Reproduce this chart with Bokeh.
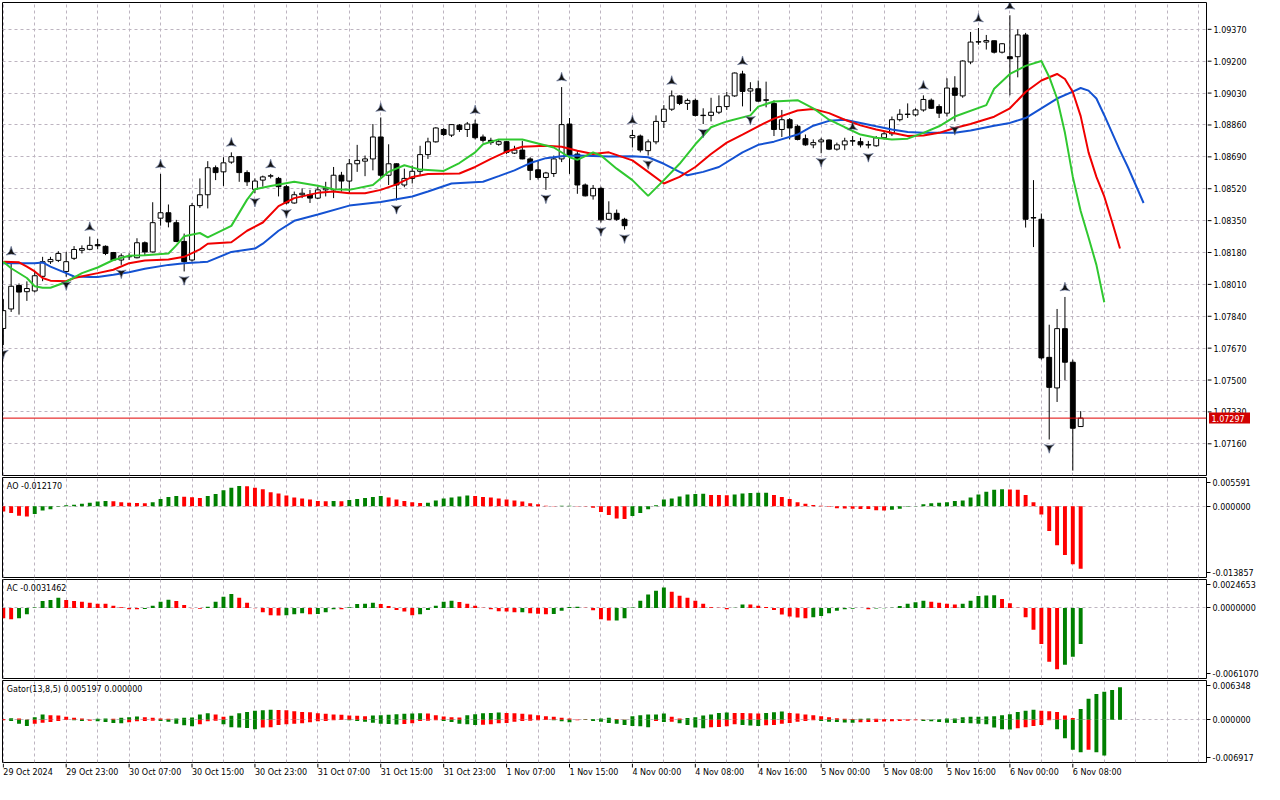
import math
from bokeh.plotting import figure
from bokeh.layouts import column, row
from bokeh.models import Range1d, FixedTicker, Span, Label, Grid, CustomJSTickFormatter
from bokeh.embed import file_html
from bokeh.resources import INLINE
from bokeh.core.properties import value

# ---------------- data (EURUSD H1, 29 Oct 15:00 .. 6 Nov 09:00) ----------------
opens = [1.07775,1.07879,1.08004,1.07971,1.07975,1.08053,1.08131,1.08138,1.08079,1.08149,
         1.08192,1.08197,1.08222,1.08213,1.08180,1.08140,1.08159,1.08152,1.08232,1.08183,
         1.08363,1.08392,1.08339,1.08239,1.08140,1.08430,1.08488,1.08632,1.08610,1.08662,
         1.08691,1.08606,1.08517,1.08566,1.08587,1.08575,1.08531,1.08444,1.08488,1.08488,
         1.08470,1.08514,1.08514,1.08592,1.08561,1.08653,1.08667,1.08679,1.08796,1.08592,
         1.08653,1.08540,1.08575,1.08613,1.08702,1.08770,1.08836,1.08806,1.08859,1.08836,
         1.08865,1.08796,1.08778,1.08757,1.08771,1.08710,1.08726,1.08679,1.08621,1.08580,
         1.08601,1.08679,1.08865,1.08705,1.08540,1.08482,1.08522,1.08357,1.08389,1.08357,
         1.08792,1.08801,1.08723,1.08770,1.08879,1.08944,1.09015,1.08975,1.08991,1.08912,
         1.08911,1.08928,1.08958,1.09015,1.09132,1.09041,1.09053,1.08994,1.08975,1.08836,
         1.08888,1.08853,1.08787,1.08754,1.08770,1.08780,1.08731,1.08754,1.08776,1.08771,
         1.08755,1.08749,1.08792,1.08813,1.08888,1.08918,1.08914,1.08940,1.08992,1.08958,
         1.08923,1.09057,1.09015,1.09196,1.09302,1.09302,1.09309,1.09248,1.09224,1.09224,
         1.09340,1.08366,1.08357,1.07621,1.07458,1.07774,1.07595,1.07252]
highs = [1.07931,1.08134,1.08015,1.08026,1.08079,1.08157,1.08157,1.08187,1.08183,1.08214,
         1.08218,1.08265,1.08253,1.08218,1.08183,1.08175,1.08176,1.08256,1.08239,1.08448,
         1.08599,1.08436,1.08354,1.08281,1.08444,1.08575,1.08667,1.08644,1.08688,1.08714,
         1.08694,1.08618,1.08575,1.08590,1.08599,1.08583,1.08540,1.08505,1.08522,1.08514,
         1.08531,1.08557,1.08636,1.08610,1.08679,1.08754,1.08697,1.08865,1.08900,1.08757,
         1.08655,1.08627,1.08644,1.08749,1.08792,1.08848,1.08844,1.08864,1.08865,1.08876,
         1.08888,1.08809,1.08792,1.08783,1.08775,1.08749,1.08775,1.08688,1.08671,1.08610,
         1.08697,1.09062,1.08897,1.08723,1.08548,1.08540,1.08531,1.08453,1.08409,1.08365,
         1.08834,1.08809,1.08783,1.08911,1.08966,1.09044,1.09018,1.09001,1.09001,1.08949,
         1.09005,1.09018,1.09036,1.09140,1.09149,1.09088,1.09097,1.09091,1.08992,1.08940,
         1.08897,1.08862,1.08809,1.08783,1.08792,1.08783,1.08766,1.08792,1.08801,1.08792,
         1.08775,1.08801,1.08827,1.08905,1.08944,1.08975,1.08949,1.09018,1.09001,1.08970,
         1.09109,1.09120,1.09205,1.09356,1.09377,1.09340,1.09310,1.09297,1.09445,1.09370,
         1.09351,1.08566,1.08388,1.07795,1.07879,1.07943,1.07609,1.07334]
lows = [1.07686,1.07863,1.07849,1.07922,1.07967,1.08027,1.08119,1.08129,1.08051,1.08140,
        1.08175,1.08192,1.08197,1.08166,1.08135,1.08114,1.08140,1.08149,1.08162,1.08180,
        1.08323,1.08314,1.08235,1.08079,1.08131,1.08418,1.08415,1.08566,1.08535,1.08653,
        1.08557,1.08535,1.08496,1.08531,1.08575,1.08479,1.08436,1.08440,1.08470,1.08444,
        1.08465,1.08479,1.08470,1.08505,1.08496,1.08610,1.08587,1.08618,1.08575,1.08540,
        1.08458,1.08528,1.08548,1.08592,1.08679,1.08766,1.08801,1.08796,1.08823,1.08796,
        1.08783,1.08766,1.08754,1.08749,1.08705,1.08705,1.08677,1.08566,1.08569,1.08514,
        1.08583,1.08662,1.08599,1.08493,1.08479,1.08462,1.08340,1.08354,1.08349,1.08302,
        1.08740,1.08714,1.08697,1.08757,1.08844,1.08935,1.08966,1.08940,1.08905,1.08865,
        1.08879,1.08918,1.08940,1.09010,1.08959,1.08933,1.08984,1.08954,1.08801,1.08796,
        1.08783,1.08778,1.08749,1.08736,1.08709,1.08726,1.08723,1.08726,1.08749,1.08740,
        1.08735,1.08744,1.08783,1.08801,1.08879,1.08897,1.08905,1.08931,1.08945,1.08897,
        1.08905,1.08879,1.09005,1.09184,1.09288,1.09262,1.09241,1.09241,1.09018,1.09114,
        1.08313,1.08209,1.07609,1.07183,1.07383,1.07499,1.07017,1.07250]
closes = [1.07870,1.08000,1.07969,1.07988,1.08056,1.08131,1.08143,1.08175,1.08131,1.08196,
          1.08201,1.08218,1.08216,1.08175,1.08140,1.08162,1.08157,1.08232,1.08183,1.08339,
          1.08392,1.08343,1.08239,1.08131,1.08430,1.08488,1.08632,1.08606,1.08658,1.08691,
          1.08606,1.08557,1.08561,1.08583,1.08589,1.08531,1.08444,1.08488,1.08496,1.08470,
          1.08514,1.08522,1.08592,1.08561,1.08653,1.08671,1.08679,1.08796,1.08592,1.08653,
          1.08540,1.08575,1.08613,1.08702,1.08770,1.08844,1.08809,1.08862,1.08836,1.08865,
          1.08792,1.08778,1.08766,1.08771,1.08714,1.08726,1.08679,1.08618,1.08580,1.08604,
          1.08679,1.08862,1.08697,1.08540,1.08482,1.08522,1.08354,1.08389,1.08357,1.08323,
          1.08804,1.08726,1.08770,1.08879,1.08944,1.09015,1.08975,1.08991,1.08911,1.08910,
          1.08928,1.08958,1.09015,1.09137,1.09039,1.09053,1.08987,1.08992,1.08836,1.08888,
          1.08844,1.08783,1.08754,1.08766,1.08780,1.08731,1.08754,1.08775,1.08774,1.08754,
          1.08753,1.08792,1.08813,1.08888,1.08917,1.08916,1.08940,1.08996,1.08949,1.08923,
          1.09057,1.09018,1.09201,1.09302,1.09304,1.09310,1.09248,1.09293,1.09213,1.09340,
          1.08357,1.08364,1.07618,1.07461,1.07774,1.07595,1.07243,1.07297]
last_price = 1.07297

fractal_up = [1, 11, 20, 29, 34, 48, 60, 71, 80, 85, 94, 108, 117, 124, 128, 135]
fractal_dn = [0, 8, 15, 23, 32, 36, 50, 69, 76, 79, 82, 89, 95, 104, 110, 121, 133]

# Alligator lines (already shifted: jaw +8, teeth +5, lips +3), sampled at bars
jaw_bar = [0,4,5,6,8,9,11,12,14,16,18,21,23,25,26,29,32,33,35,37,40,44,48,52,54,57,61,63,65,67,
           69,71,73,77,80,82,84,86,87,89,91,94,96,98,101,103,105,107,109,111,113,115,117,121,123,
           126,128,130,132,134,136,137,138,139,140,142,143,145]
jaw_val = [1.08123,1.08123,1.08127,1.08105,1.08070,1.08052,1.08049,1.08049,1.08061,1.08075,
           1.08093,1.08114,1.08123,1.08128,1.08131,1.08183,1.08201,1.08227,1.08296,1.08349,
           1.08383,1.08430,1.08449,1.08479,1.08505,1.08548,1.08557,1.08587,1.08618,1.08657,
           1.08683,1.08693,1.08697,1.08692,1.08693,1.08688,1.08653,1.08610,1.08592,1.08610,
           1.08636,1.08714,1.08754,1.08771,1.08809,1.08856,1.08882,1.08888,1.08871,1.08853,
           1.08836,1.08822,1.08818,1.08818,1.08831,1.08856,1.08871,1.08897,1.08949,1.09001,
           1.09038,1.09057,1.09043,1.09001,1.08912,1.08723,1.08636,1.08444]
teeth_bar = [0,2,3,4,5,6,8,9,12,14,16,18,21,23,25,26,29,31,33,35,37,40,42,44,46,48,50,52,54,58,
             60,62,64,66,69,71,73,75,77,80,82,84,86,88,90,92,94,96,98,101,103,105,107,109,111,
             113,115,117,119,121,123,126,128,130,132,134,135,136,137,138,139,140,141,142]
teeth_val = [1.08131,1.08128,1.08105,1.08079,1.08044,1.08030,1.08027,1.08044,1.08070,1.08088,
             1.08123,1.08137,1.08143,1.08157,1.08197,1.08227,1.08235,1.08296,1.08340,1.08427,
             1.08470,1.08498,1.08505,1.08496,1.08496,1.08514,1.08543,1.08583,1.08598,1.08601,
             1.08636,1.08679,1.08718,1.08744,1.08749,1.08744,1.08723,1.08705,1.08714,1.08671,
             1.08610,1.08548,1.08583,1.08636,1.08705,1.08766,1.08809,1.08853,1.08894,1.08937,
             1.08945,1.08923,1.08888,1.08858,1.08836,1.08818,1.08801,1.08804,1.08818,1.08844,
             1.08865,1.08904,1.08949,1.09036,1.09097,1.09132,1.09105,1.09036,1.08907,1.08714,
             1.08583,1.08479,1.08343,1.08201]
lips_bar = [0,1,3,4,5,6,8,10,12,14,16,18,21,22,23,25,26,29,31,32,34,37,40,42,44,47,49,51,53,56,
            58,60,61,63,66,68,70,72,73,75,76,78,80,82,84,86,88,90,92,95,96,98,101,103,105,107,
            109,111,113,115,117,119,121,125,126,128,130,132,133,134,135,136,137,138,139,140]
lips_val = [1.08131,1.08096,1.08044,1.08000,1.07992,1.07992,1.08023,1.08070,1.08100,1.08140,
            1.08163,1.08166,1.08175,1.08218,1.08267,1.08284,1.08261,1.08322,1.08462,1.08517,
            1.08535,1.08557,1.08536,1.08517,1.08514,1.08540,1.08610,1.08645,1.08622,1.08615,
            1.08657,1.08714,1.08757,1.08783,1.08783,1.08761,1.08740,1.08688,1.08674,1.08714,
            1.08697,1.08627,1.08566,1.08482,1.08566,1.08653,1.08757,1.08848,1.08879,1.08911,
            1.08958,1.08985,1.08992,1.08949,1.08888,1.08848,1.08809,1.08792,1.08783,1.08787,
            1.08818,1.08853,1.08905,1.08966,1.09053,1.09132,1.09175,1.09201,1.09116,1.09001,
            1.08818,1.08583,1.08401,1.08260,1.08114,1.07915]

ao = [-0.00100,-0.00133,-0.00184,-0.00197,-0.00153,-0.00083,-0.00057,-0.00010,0.00020,0.00030,
      0.00050,0.00070,0.00090,0.00102,0.00098,0.00080,0.00070,0.00065,0.00060,0.00080,
      0.00140,0.00180,0.00200,0.00185,0.00175,0.00160,0.00200,0.00240,0.00310,0.00360,
      0.00392,0.00388,0.00360,0.00330,0.00270,0.00250,0.00210,0.00170,0.00150,0.00130,
      0.00100,0.00098,0.00102,0.00099,0.00120,0.00140,0.00160,0.00180,0.00200,0.00170,
      0.00130,0.00100,0.00080,0.00064,0.00070,0.00110,0.00150,0.00170,0.00190,0.00210,
      0.00200,0.00180,0.00170,0.00150,0.00130,0.00110,0.00090,0.00060,0.00040,0.00010,
      0.00005,0.00010,0.00012,0.00005,-0.00005,-0.00030,-0.00110,-0.00170,-0.00240,-0.00250,
      -0.00190,-0.00130,-0.00060,0.00020,0.00130,0.00150,0.00190,0.00230,0.00240,0.00245,
      0.00220,0.00218,0.00215,0.00230,0.00250,0.00260,0.00262,0.00264,0.00220,0.00180,
      0.00140,0.00080,0.00050,0.00025,0.00010,-0.00010,-0.00040,-0.00045,-0.00050,-0.00052,
      -0.00055,-0.00080,-0.00082,-0.00070,-0.00050,-0.00010,0.00005,0.00040,0.00060,0.00070,
      0.00080,0.00100,0.00110,0.00170,0.00230,0.00280,0.00320,0.00332,0.00328,0.00320,
      0.00220,0.00080,-0.00160,-0.00480,-0.00760,-0.00950,-0.01130,-0.01217]
ac = [-0.00089,-0.00097,-0.00089,-0.00054,0.00005,0.00060,0.00069,0.00089,0.00069,0.00060,
      0.00054,0.00046,0.00037,0.00036,0.00020,0.00006,-0.00010,-0.00012,-0.00008,0.00020,
      0.00054,0.00071,0.00060,0.00026,-0.00003,-0.00006,0.00011,0.00054,0.00097,0.00120,
      0.00089,0.00046,-0.00003,-0.00037,-0.00063,-0.00065,-0.00062,-0.00054,-0.00046,-0.00054,
      -0.00052,-0.00037,-0.00011,-0.00012,0.00006,0.00034,0.00036,0.00046,0.00034,0.00017,
      -0.00017,-0.00031,-0.00063,-0.00054,-0.00017,0.00020,0.00054,0.00063,0.00051,0.00037,
      0.00020,0.00002,-0.00011,-0.00029,-0.00030,-0.00037,-0.00036,-0.00046,-0.00049,-0.00054,
      -0.00053,-0.00023,0.00009,0.00010,0.00002,-0.00020,-0.00097,-0.00109,-0.00108,-0.00089,
      0.00005,0.00063,0.00117,0.00149,0.00177,0.00140,0.00106,0.00089,0.00063,0.00037,
      0.00006,0.00001,-0.00011,0.00001,0.00031,0.00029,0.00020,0.00009,-0.00017,-0.00057,
      -0.00074,-0.00083,-0.00089,-0.00080,-0.00069,-0.00046,-0.00023,-0.00011,-0.00006,-0.00001,
      -0.00010,-0.00005,-0.00002,0.00002,0.00017,0.00037,0.00049,0.00063,0.00054,0.00046,
      0.00037,0.00029,0.00037,0.00063,0.00103,0.00109,0.00111,0.00077,0.00040,0.00002,
      -0.00080,-0.00189,-0.00311,-0.00466,-0.00531,-0.00491,-0.00423,-0.00311]
gator_up = [0.00012,0.00024,0.00020,0.00005,0.00042,0.00084,0.00074,0.00070,0.00047,0.00032,
            0.00021,0.00005,0.00016,0.00021,0.00016,0.00032,0.00042,0.00053,0.00042,0.00032,
            0.00021,0.00016,0.00021,0.00032,0.00037,0.00084,0.00105,0.00084,0.00047,0.00063,
            0.00105,0.00126,0.00147,0.00153,0.00163,0.00158,0.00153,0.00137,0.00126,0.00121,
            0.00105,0.00095,0.00084,0.00079,0.00068,0.00063,0.00058,0.00068,0.00074,0.00079,
            0.00089,0.00095,0.00100,0.00105,0.00100,0.00074,0.00053,0.00042,0.00037,0.00074,
            0.00089,0.00105,0.00110,0.00116,0.00110,0.00105,0.00095,0.00084,0.00074,0.00058,
            0.00047,0.00032,0.00021,0.00005,0.00006,0.00010,0.00021,0.00032,0.00010,0.00002,
            0.00058,0.00074,0.00084,0.00086,0.00100,0.00047,0.00020,0.00030,0.00042,0.00068,
            0.00084,0.00110,0.00116,0.00110,0.00108,0.00106,0.00100,0.00110,0.00121,0.00132,
            0.00110,0.00100,0.00084,0.00074,0.00058,0.00042,0.00026,0.00018,0.00012,0.00016,
            0.00020,0.00016,0.00012,0.00010,0.00008,0.00006,0.00004,0.00002,0.00003,0.00008,
            0.00020,0.00022,0.00042,0.00047,0.00050,0.00052,0.00058,0.00074,0.00090,0.00126,
            0.00147,0.00163,0.00147,0.00137,0.00126,0.00068,0.00030,0.00174,0.00340,0.00416,
            0.00453,0.00480,0.00526]
gator_dn = [-0.00010,-0.00021,-0.00063,-0.00100,-0.00063,-0.00047,-0.00037,-0.00021,-0.00005,-0.00010,
            -0.00021,-0.00016,-0.00026,-0.00037,-0.00053,-0.00058,-0.00042,-0.00026,-0.00021,-0.00016,
            -0.00021,-0.00032,-0.00063,-0.00089,-0.00105,-0.00074,-0.00026,-0.00016,-0.00074,-0.00121,
            -0.00126,-0.00132,-0.00153,-0.00126,-0.00121,-0.00084,-0.00074,-0.00063,-0.00058,-0.00042,
            -0.00026,-0.00021,-0.00010,-0.00005,-0.00010,-0.00021,-0.00032,-0.00047,-0.00063,-0.00068,
            -0.00079,-0.00068,-0.00058,-0.00021,-0.00015,-0.00010,-0.00021,-0.00037,-0.00063,-0.00074,
            -0.00084,-0.00082,-0.00074,-0.00058,-0.00053,-0.00032,-0.00021,-0.00016,-0.00010,-0.00005,
            -0.00010,-0.00026,-0.00042,-0.00010,-0.00005,-0.00021,-0.00032,-0.00053,-0.00063,-0.00084,
            -0.00100,-0.00105,-0.00121,-0.00021,-0.00037,-0.00032,-0.00058,-0.00084,-0.00126,-0.00137,
            -0.00121,-0.00116,-0.00105,-0.00074,-0.00084,-0.00095,-0.00100,-0.00089,-0.00084,-0.00063,
            -0.00053,-0.00032,-0.00021,-0.00010,-0.00021,-0.00032,-0.00037,-0.00045,-0.00050,-0.00042,
            -0.00037,-0.00035,-0.00030,-0.00026,-0.00021,-0.00016,-0.00010,-0.00021,-0.00026,-0.00037,
            -0.00047,-0.00053,-0.00054,-0.00058,-0.00063,-0.00074,-0.00126,-0.00153,-0.00158,-0.00137,
            -0.00121,-0.00100,-0.00084,-0.00010,-0.00153,-0.00300,-0.00484,-0.00526,-0.00484,-0.00526,
            -0.00579]

price_ticks = [1.07160,1.07330,1.07500,1.07670,1.07840,1.08010,1.08180,1.08350,
               1.08520,1.08690,1.08860,1.09030,1.09200,1.09370]
ao_range = (-0.013857, 0.005591)
ac_range = (-0.0061070, 0.0024653)
gator_range = (-0.006917, 0.006348)
ao_labels = ["-0.013857", "0.000000", "0.005591"]
ac_labels = ["-0.0061070", "0.0000000", "0.0024653"]
gator_labels = ["-0.006917", "0.000000", "0.006348"]
ao_title = "AO -0.012170"
ac_title = "AC -0.0031462"
gator_title = "Gator(13,8,5) 0.005197 0.000000"

time_bars = [0, 8, 16, 24, 32, 40, 48, 56, 64, 72, 80, 88, 96, 104, 112, 120, 128, 136]
time_labels = ["29 Oct 2024", "29 Oct 23:00", "30 Oct 07:00", "30 Oct 15:00", "30 Oct 23:00",
               "31 Oct 07:00", "31 Oct 15:00", "31 Oct 23:00", "1 Nov 07:00", "1 Nov 15:00",
               "4 Nov 00:00", "4 Nov 08:00", "4 Nov 16:00", "5 Nov 00:00", "5 Nov 08:00",
               "5 Nov 16:00", "6 Nov 00:00", "6 Nov 08:00"]

# ---------------- styling ----------------
FONT = "DejaVu Sans"
FS = "8px"
FW = 1204
STRIP_W = 54
X0, X1 = -0.1, 153.0
GRID_COLOR = "#bdb4c0"
GREEN = "#008000"
RED = "#ff0000"
xr = Range1d(X0, X1)
vgrid = list(range(0, 153, 4))


def make_fig(h, yr, top=1, bottom=1, axis=True, right=0):
    f = figure(frame_width=FW, frame_height=h, x_range=xr,
               y_range=(yr if isinstance(yr, Range1d) else Range1d(*yr)),
               x_axis_location=None, y_axis_location=("right" if axis else None),
               toolbar_location=None, output_backend="svg",
               min_border_left=2, min_border_right=right,
               min_border_top=top, min_border_bottom=bottom)
    f.grid.visible = False
    f.outline_line_color = "black"
    f.outline_line_width = 1
    f.outline_line_alpha = 1
    f.background_fill_color = "white"
    f.border_fill_color = "white"
    return f


def add_grid(f, yticks):
    f.add_layout(Grid(dimension=0, ticker=FixedTicker(ticks=vgrid), grid_line_color=GRID_COLOR,
                      grid_line_dash="3 3", grid_line_width=1))
    f.add_layout(Grid(dimension=1, ticker=FixedTicker(ticks=yticks), grid_line_color=GRID_COLOR,
                      grid_line_dash="3 3", grid_line_width=1))


def style_axis(f, ticks, formatter):
    ax = f.yaxis[0]
    ax.ticker = FixedTicker(ticks=ticks)
    ax.formatter = formatter
    ax.major_label_text_font = FONT
    ax.major_label_text_font_size = FS
    ax.major_label_text_color = "black"
    ax.axis_line_color = None
    ax.major_tick_line_color = "black"
    ax.major_tick_out = 4
    ax.major_tick_in = 0
    ax.minor_tick_line_color = None
    ax.major_label_standoff = 2


def panel_axis(f, yr, h, labels):
    inset = 5.0 / h * (yr[1] - yr[0])
    vals = [yr[0] + inset, 0.0, yr[1] - inset]
    fmt = CustomJSTickFormatter(args=dict(vals=vals, labs=labels), code="""
        let b = 0;
        for (let k = 1; k < vals.length; k++) {
            if (Math.abs(vals[k] - tick) < Math.abs(vals[b] - tick)) { b = k; }
        }
        return labs[b];
    """)
    style_axis(f, vals, fmt)


def up_down_colors(vals, use_abs=False):
    cols = []
    prev = None
    for v in vals:
        cur = abs(v) if use_abs else v
        cols.append(GREEN if (prev is not None and cur > prev) else RED)
        prev = cur
    return cols


# ---------------- main price chart ----------------
MAIN_H = 473
main_yr = Range1d(1.06991, 1.09513)
p = make_fig(MAIN_H, main_yr, top=2, bottom=1, axis=False, right=1)
add_grid(p, price_ticks)

n = len(closes)
xs = list(range(n))
p.segment(x0=xs, y0=lows, x1=xs, y1=highs, line_color="black", line_width=1)
bull = [i for i in xs if closes[i] >= opens[i]]
bear = [i for i in xs if closes[i] < opens[i]]
p.vbar(x=bull, width=0.62, top=[closes[i] for i in bull], bottom=[opens[i] for i in bull],
       fill_color="white", line_color="black", line_width=1)
p.vbar(x=bear, width=0.62, top=[opens[i] for i in bear], bottom=[closes[i] for i in bear],
       fill_color="black", line_color="black", line_width=1)

p.line(jaw_bar, jaw_val, line_color="#1452d2", line_width=2)
p.line(teeth_bar, teeth_val, line_color="#f00000", line_width=2)
p.line(lips_bar, lips_val, line_color="#30c830", line_width=2)

px = (main_yr.end - main_yr.start) / MAIN_H
p.scatter(x=fractal_up, y=[highs[i] + 9 * px for i in fractal_up], marker="triangle_pin",
          size=10, fill_color="#141414", line_color="#5a6a90", line_width=0.6)
p.scatter(x=fractal_dn, y=[lows[i] - 8 * px for i in fractal_dn], marker="triangle_pin",
          angle=math.pi, size=10, fill_color="#141414", line_color="#5a6a90", line_width=0.6)

p.add_layout(Span(location=last_price, dimension="width", line_color="#e00000", line_width=1))

# price scale strip (right of the main chart)
pa = figure(frame_width=STRIP_W, frame_height=MAIN_H, x_range=Range1d(0, STRIP_W), y_range=main_yr,
            x_axis_location=None, y_axis_location=None, toolbar_location=None,
            output_backend="svg", min_border_left=0, min_border_right=0,
            min_border_top=2, min_border_bottom=1)
pa.grid.visible = False
pa.outline_line_color = None
pa.background_fill_color = "white"
pa.border_fill_color = "white"
pa.segment(x0=[0] * len(price_ticks), y0=price_ticks, x1=[4] * len(price_ticks), y1=price_ticks,
           line_color="black", line_width=1)
pa.text(x=[6] * len(price_ticks), y=price_ticks, text=["%.5f" % t for t in price_ticks],
        text_font=value(FONT), text_font_size=FS, text_align="left", text_baseline="middle",
        text_color="black")
pa.rect(x=[22], y=[last_price], width=[41], height=[11 * px], fill_color="#d20000",
        line_color=None)
pa.text(x=[4], y=[last_price], text=["%.5f" % last_price], text_font=value(FONT),
        text_font_size=FS, text_align="left", text_baseline="middle", text_color="white")

# ---------------- AO ----------------
AO_H = 100
fa = make_fig(AO_H, ao_range)
add_grid(fa, [0.0])
panel_axis(fa, ao_range, AO_H, ao_labels)
fa.vbar(x=list(range(len(ao))), width=0.5, top=ao, bottom=0, fill_color=up_down_colors(ao),
        line_color=None)
fa.add_layout(Label(x=0.45, y=ao_range[1] - 9 * (ao_range[1] - ao_range[0]) / AO_H, text=ao_title,
                    text_font=FONT, text_font_size=FS, text_baseline="middle", text_color="black"))

# ---------------- AC ----------------
AC_H = 99
fc = make_fig(AC_H, ac_range)
add_grid(fc, [0.0])
panel_axis(fc, ac_range, AC_H, ac_labels)
fc.vbar(x=list(range(len(ac))), width=0.5, top=ac, bottom=0, fill_color=up_down_colors(ac),
        line_color=None)
fc.add_layout(Label(x=0.45, y=ac_range[1] - 9 * (ac_range[1] - ac_range[0]) / AC_H, text=ac_title,
                    text_font=FONT, text_font_size=FS, text_baseline="middle", text_color="black"))

# ---------------- Gator ----------------
G_H = 82
fg = make_fig(G_H, gator_range)
add_grid(fg, [0.0])
panel_axis(fg, gator_range, G_H, gator_labels)
fg.vbar(x=list(range(len(gator_up))), width=0.5, top=gator_up, bottom=0,
        fill_color=up_down_colors(gator_up), line_color=None)
fg.vbar(x=list(range(len(gator_dn))), width=0.5, top=0, bottom=gator_dn,
        fill_color=up_down_colors(gator_dn, use_abs=True), line_color=None)
fg.add_layout(Label(x=0.45, y=gator_range[1] - 9 * (gator_range[1] - gator_range[0]) / G_H,
                    text=gator_title, text_font=FONT, text_font_size=FS, text_baseline="middle",
                    text_color="black"))

# ---------------- time axis strip ----------------
ft = figure(frame_width=FW, frame_height=18, x_range=xr, y_range=Range1d(0, 18),
            x_axis_location=None, y_axis_location=None, toolbar_location=None,
            output_backend="svg", min_border_left=2, min_border_right=0,
            min_border_top=0, min_border_bottom=0)
ft.grid.visible = False
ft.outline_line_color = None
ft.background_fill_color = "white"
ft.border_fill_color = "white"
ft.segment(x0=time_bars, y0=[18] * len(time_bars), x1=time_bars, y1=[14] * len(time_bars),
           line_color="black", line_width=1)
ft.text(x=time_bars, y=[9] * len(time_bars), text=time_labels, text_font=value(FONT),
        text_font_size=FS, text_align="left", text_baseline="middle", text_color="black")

layout = column(row(p, pa, spacing=0), fa, fc, fg, ft, spacing=0)
open("out.html", "w").write(file_html(layout, INLINE))
